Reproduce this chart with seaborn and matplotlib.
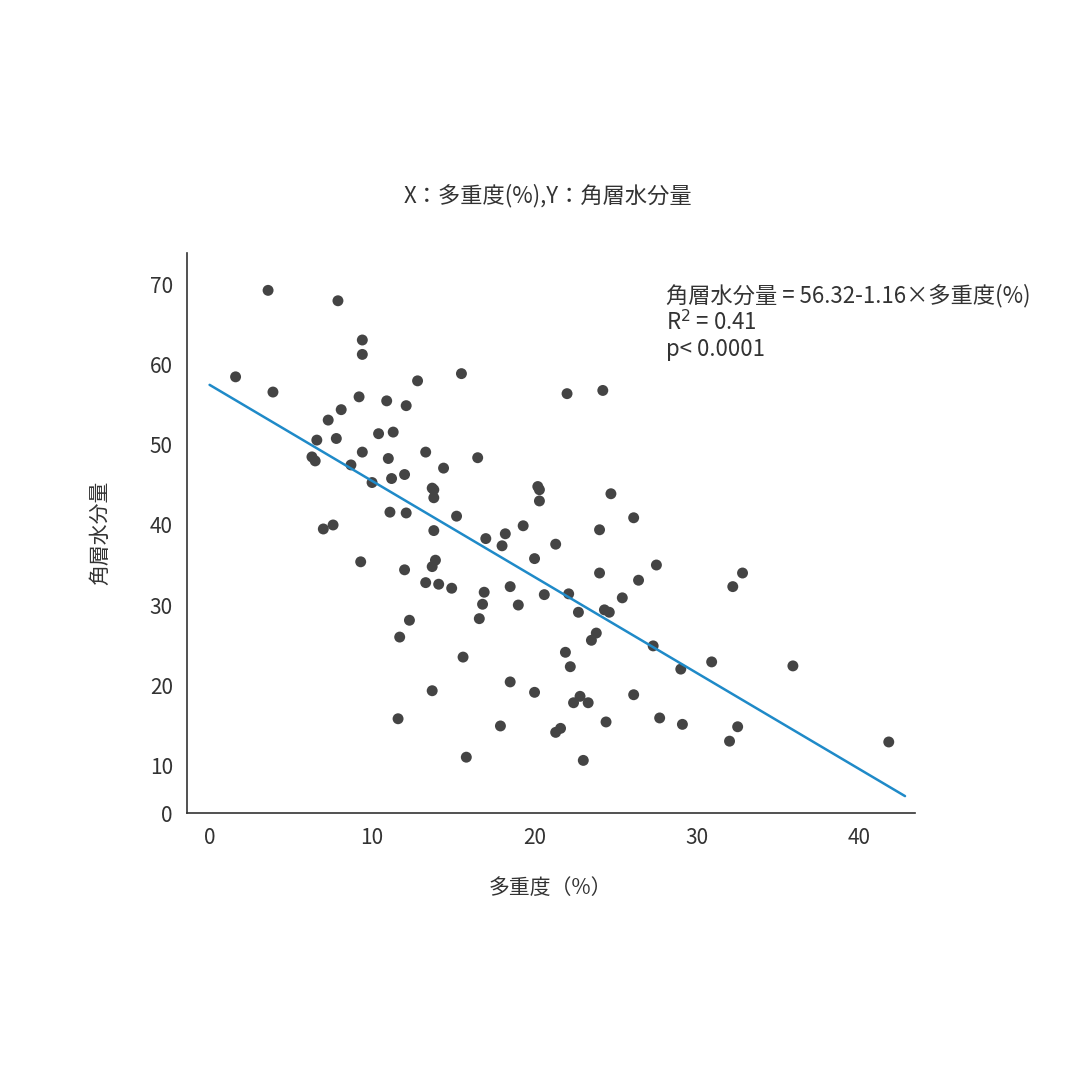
import matplotlib
matplotlib.use("Agg")
import matplotlib.pyplot as plt
import seaborn as sns
import pandas as pd

# data
x_vals = [1.6, 3.6, 3.9, 7.9, 9.4, 9.4, 6.3, 6.5, 6.6, 7.3, 7.8, 8.1, 8.7, 9.2, 9.4,
          10.0, 10.4, 10.9, 11.0, 11.3, 11.2, 11.1, 12.1, 12.0, 12.1, 12.8, 12.3, 11.7,
          13.3, 13.7, 13.8, 13.8, 14.4, 13.8, 13.9, 13.7, 14.1, 13.3, 14.9, 15.2, 15.5,
          16.5, 17.0, 16.6, 16.9, 16.8, 15.6, 15.8, 13.7, 11.6, 9.3, 12.0, 7.0, 7.6,
          17.9, 18.2, 18.0, 18.5, 19.0, 19.3, 20.0, 20.2, 20.3, 20.3, 20.6, 21.3, 20.0,
          18.5, 21.3, 21.6, 21.9, 22.1, 22.2, 22.0, 22.4, 22.7, 22.8, 23.0, 23.3, 23.5,
          23.8, 24.0, 24.0, 24.2, 24.3, 24.6, 24.7, 24.4, 25.4, 26.1, 26.1, 26.4, 27.5,
          27.3, 27.7, 29.0, 29.1, 30.9, 32.0, 32.2, 32.5, 32.8, 35.9, 41.8]
y_vals = [58.5, 69.3, 56.6, 68.0, 63.1, 61.3, 48.5, 48.0, 50.6, 53.1, 50.8, 54.4, 47.5, 56.0, 49.1,
          45.3, 51.4, 55.5, 48.3, 51.6, 45.8, 41.6, 54.9, 46.3, 41.5, 58.0, 28.1, 26.0,
          49.1, 44.6, 44.4, 43.4, 47.1, 39.3, 35.6, 34.8, 32.6, 32.8, 32.1, 41.1, 58.9,
          48.4, 38.3, 28.3, 31.6, 30.1, 23.5, 11.0, 19.3, 15.8, 35.4, 34.4, 39.5, 40.0,
          14.9, 38.9, 37.4, 32.3, 30.0, 39.9, 35.8, 44.8, 44.4, 43.0, 31.3, 37.6, 19.1,
          20.4, 14.1, 14.6, 24.1, 31.4, 22.3, 56.4, 17.8, 29.1, 18.6, 10.6, 17.8, 25.6,
          26.5, 34.0, 39.4, 56.8, 29.4, 29.1, 43.9, 15.4, 30.9, 18.8, 40.9, 33.1, 35.0,
          24.9, 15.9, 22.0, 15.1, 22.9, 13.0, 32.3, 14.8, 34.0, 22.4, 12.9]
line_x = [0, 42.8]
line_intercept = 57.5
line_slope = -1.2
x_ticks = [0, 10, 20, 30, 40]
y_ticks = [4, 10, 20, 30, 40, 50, 60, 70]
y_tick_labels = ["0", "10", "20", "30", "40", "50", "60", "70"]

df = pd.DataFrame({"x": x_vals, "y": y_vals})
line_df = pd.DataFrame({"x": line_x, "y": [line_intercept + line_slope * v for v in line_x]})

sns.set_style("white")
plt.rcParams["font.family"] = ["Noto Sans CJK JP", "DejaVu Sans"]

fig = plt.figure(figsize=(10.8, 10.8), dpi=100)
ax = fig.add_axes([0.173, 0.247, 0.674, 0.519])
sns.scatterplot(data=df, x="x", y="y", ax=ax, color="#444444", s=62, edgecolor="none")
sns.lineplot(data=line_df, x="x", y="y", ax=ax, color="#1f8ac8", linewidth=1.8)

ax.set_xlim(-1.4, 43.4)
ax.set_ylim(4, 74)
ax.set_xticks(x_ticks)
ax.set_yticks(y_ticks)
ax.set_yticklabels(y_tick_labels)
ax.tick_params(length=0, labelsize=15, colors="#333333", pad=10)
for s in ["top", "right"]:
    ax.spines[s].set_visible(False)
for s in ["left", "bottom"]:
    ax.spines[s].set_color("#333333")
    ax.spines[s].set_linewidth(1.2)
ax.set_xlabel("多重度（%）", fontsize=15, color="#333333", labelpad=20)
ax.set_ylabel("角層水分量", fontsize=15, color="#333333", labelpad=28)

fig.text(0.507, 0.819, "X：多重度(%),Y：角層水分量", ha="center", va="center",
         fontsize=16, color="#333333")
ax.text(0.658, 0.945, "角層水分量 = 56.32-1.16×多重度(%)\nR$^2$ = 0.41\np< 0.0001",
        transform=ax.transAxes, ha="left", va="top", fontsize=16, color="#333333",
        linespacing=1.15)

fig.savefig("out.png", dpi=100)
